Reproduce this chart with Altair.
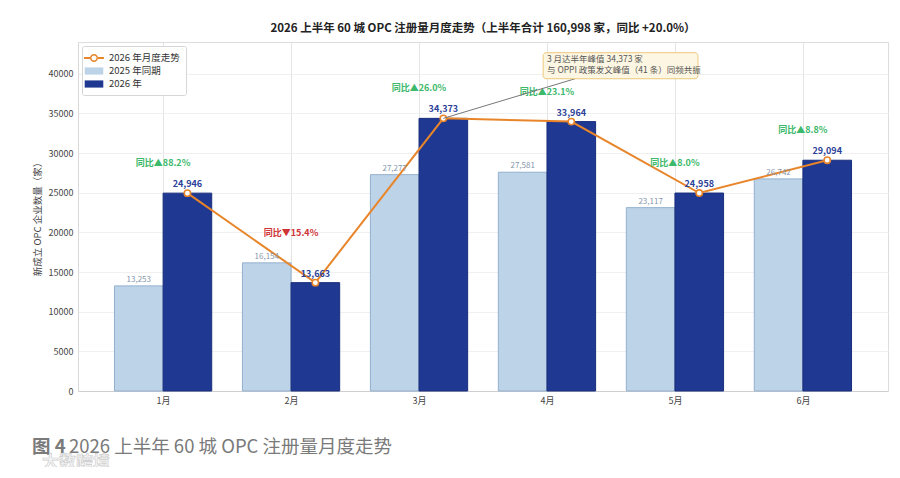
import altair as alt
import pandas as pd

FONT = "Noto Sans CJK SC"

months = ["1月", "2月", "3月", "4月", "5月", "6月"]
v2025 = [13253, 16154, 27277, 27581, 23117, 26742]
v2026 = [24946, 13663, 34373, 33964, 24958, 29094]
yoy = [88.2, -15.4, 26.0, 23.1, 8.0, 8.8]

series_names = ["2026 年月度走势", "2025 年同期", "2026 年"]
colors = ["#e8852a", "#bdd3e8", "#1f3891"]

title_text = "2026 上半年 60 城 OPC 注册量月度走势（上半年合计 160,998 家，同比 +20.0%）"
caption_head = "图 4"
caption_text = "2026 上半年 60 城 OPC 注册量月度走势"
note_lines = ["3 月达半年峰值 34,373 家", "与 OPPI 政策发文峰值（41 条）同频共振"]
note_anchor_month = 2
note_box = {"x": 2.97, "x2": 4.18, "y": 42650, "y2": 39370, "tx": 3.0, "ty": 41900, "ax": 3.22}

idx = list(range(len(months)))
df = pd.DataFrame({"i": idx, "month": months, "v2025": v2025, "v2026": v2026, "yoy": yoy})
df["mx"] = df[["v2025", "v2026"]].max(axis=1)
df["yoy_label"] = ["同比" + ("▲" if y >= 0 else "▼") + f"{abs(y):.1f}%" for y in yoy]
df["up"] = ["up" if y >= 0 else "down" for y in yoy]

long = pd.concat([
    pd.DataFrame({"i": idx, "series": "2025 年同期", "v": v2025, "side": -1}),
    pd.DataFrame({"i": idx, "series": "2026 年", "v": v2026, "side": 1}),
])

HALF = 0.38
xscale = alt.Scale(domain=[-0.665, 5.665], nice=False, zero=False)
yscale = alt.Scale(domain=[0, 44000], nice=False)
label_expr = "[" + ",".join("'" + m + "'" for m in months) + "][datum.value]"

xaxis = alt.Axis(values=idx, labelExpr=label_expr, title=None, grid=True, gridColor="#e4e4e4",
                 ticks=False, labelPadding=5, labelFontSize=9, labelColor="#444", labelFont=FONT,
                 domainColor="#cfcfcf")
yaxis = alt.Axis(values=list(range(0, 40001, 5000)), format="d", title="新成立 OPC 企业数量（家）",
                 titleFontSize=9.5, titleFontWeight="normal", titleColor="#444", titleFont=FONT,
                 titlePadding=6, labelFontSize=9, labelColor="#444", labelFont=FONT, ticks=False,
                 labelPadding=5, gridColor="#f0f0f0", domainColor="#d9d9d9")

color_scale = alt.Scale(domain=series_names, range=colors)
shape_paths = [
    "M-1.65,-0.17H-0.67V0.17H-1.65Z M0.67,-0.17H1.65V0.17H0.67Z "
    "M0.67,0A0.67,0.67 0 1,1 -0.67,0A0.67,0.67 0 1,1 0.67,0Z "
    "M0.42,0A0.42,0.42 0 1,0 -0.42,0A0.42,0.42 0 1,0 0.42,0Z",
    "M-1.55,-0.6H1.55V0.6H-1.55Z",
    "M-1.55,-0.6H1.55V0.6H-1.55Z",
]


def mk_legend():
    return alt.Legend(orient="top-left", offset=4, symbolOpacity=1, symbolSize=144,
                      symbolStrokeWidth=0, labelFontSize=9.5, labelFont=FONT,
                      labelColor="#333", fillColor="white", strokeColor="#d6d6d6",
                      padding=6, cornerRadius=2, rowPadding=2, labelOffset=9)


base = alt.Chart(df)
lbase = alt.Chart(long)

bars = lbase.mark_bar(strokeWidth=1).transform_calculate(
    x1="datum.side < 0 ? datum.i - %f : datum.i" % HALF,
    x2="datum.side < 0 ? datum.i : datum.i + %f" % HALF,
).encode(
    x=alt.X("x1:Q", scale=xscale, axis=xaxis),
    x2="x2:Q",
    y=alt.Y("v:Q", scale=yscale, axis=yaxis),
    y2=alt.datum(0),
    color=alt.Color("series:N", scale=color_scale, title=None, legend=mk_legend()),
    stroke=alt.Stroke("series:N", scale=alt.Scale(domain=["2025 年同期", "2026 年"], range=["#93b0cf", "#1a2f7c"]), legend=None),
)

legend_df = pd.DataFrame({"series": series_names})
legend_layer = alt.Chart(legend_df).mark_point(filled=True, opacity=0).encode(
    x=alt.datum(0), y=alt.datum(0),
    color=alt.Color("series:N", scale=color_scale, title=None, legend=mk_legend()),
    shape=alt.Shape("series:N", scale=alt.Scale(domain=series_names, range=shape_paths), title=None,
                    legend=mk_legend()),
)

line = base.mark_line(color=colors[0], strokeWidth=2).transform_calculate(
    xc="datum.i + %f" % (HALF / 2)
).encode(x=alt.X("xc:Q", scale=xscale), y=alt.Y("v2026:Q", scale=yscale))

pts = base.mark_point(filled=True, fill="white", stroke=colors[0], strokeWidth=1.6, size=40, opacity=1).transform_calculate(
    xc="datum.i + %f" % (HALF / 2)
).encode(x=alt.X("xc:Q", scale=xscale), y=alt.Y("v2026:Q", scale=yscale))

lab26 = base.mark_text(font=FONT, fontSize=9, fontWeight="bold", color="#2b3f99", dy=-9).transform_calculate(
    xc="datum.i + %f" % (HALF / 2)
).encode(x=alt.X("xc:Q", scale=xscale), y=alt.Y("v2026:Q", scale=yscale), text=alt.Text("v2026:Q", format=","))

lab25 = base.mark_text(font=FONT, fontSize=8, color="#8797ab", dy=-6).transform_calculate(
    xc="datum.i - %f" % (HALF / 2)
).encode(x=alt.X("xc:Q", scale=xscale), y=alt.Y("v2025:Q", scale=yscale), text=alt.Text("v2025:Q", format=","))

labyoy = base.mark_text(font=FONT, fontSize=9, fontWeight="bold", dy=-30, baseline="middle").encode(
    x=alt.X("i:Q", scale=xscale), y=alt.Y("mx:Q", scale=yscale), text="yoy_label:N",
    fill=alt.Fill("up:N", scale=alt.Scale(domain=["up", "down"], range=["#3cb96a", "#cf3535"]), legend=None),
)

ann_df = pd.DataFrame([{
    "x": note_box["x"], "x2": note_box["x2"], "y": note_box["y"], "y2": note_box["y2"],
    "px": note_anchor_month + HALF / 2, "py": v2026[note_anchor_month], "ax": note_box["ax"],
    "tx": note_box["tx"], "ty": note_box["ty"], "text": note_lines,
}])
ann = alt.Chart(ann_df)
arrow = ann.mark_rule(color="#777", strokeWidth=1).encode(
    x=alt.X("px:Q", scale=xscale), y=alt.Y("py:Q", scale=yscale), x2="ax:Q", y2="y2:Q")
box = ann.mark_rect(fill="#fdf6e2", stroke="#ecc97c", strokeWidth=1, cornerRadius=3).encode(
    x=alt.X("x:Q", scale=xscale), x2="x2:Q", y=alt.Y("y:Q", scale=yscale), y2="y2:Q")
boxtext = ann.mark_text(font=FONT, fontSize=8.5, color="#555", align="left", baseline="middle", lineHeight=11).encode(
    x=alt.X("tx:Q", scale=xscale), y=alt.Y("ty:Q", scale=yscale), text="text")

cap_df = pd.DataFrame({"a": [caption_head], "b": [caption_text], "w": ["大数跨境"]})
cap = alt.Chart(cap_df)
cap1 = cap.mark_text(font=FONT, fontSize=18.5, fontWeight="bold", color="#7a7a7a", align="left", baseline="middle").encode(
    x=alt.value(-46), y=alt.value(405), text="a:N")
cap2 = cap.mark_text(font=FONT, fontSize=18.5, color="#7a7a7a", align="left", baseline="middle").encode(
    x=alt.value(-9), y=alt.value(405), text="b:N")
wm = cap.mark_text(font=FONT, fontSize=17, fontWeight="bold", fill="#f4f4f4", stroke="#c4c4c4", strokeWidth=0.6,
                   align="left", baseline="middle", opacity=0.85).encode(
    x=alt.value(-36), y=alt.value(421), text="w:N")

chart = alt.layer(bars, line, pts, lab25, lab26, labyoy, arrow, box, boxtext, legend_layer, cap1, cap2, wm).properties(
    width=810, height=349,
    title=alt.TitleParams(title_text, font=FONT, fontSize=11.5, fontWeight="bold", color="#222", offset=8, anchor="middle"),
    autosize=alt.AutoSizeParams(type="none"),
    padding={"left": 70, "top": 34, "right": 4, "bottom": 76},
).configure_view(stroke=None).configure(background="white")

chart.save("out.html", embed_options={"renderer": "svg", "actions": False})
